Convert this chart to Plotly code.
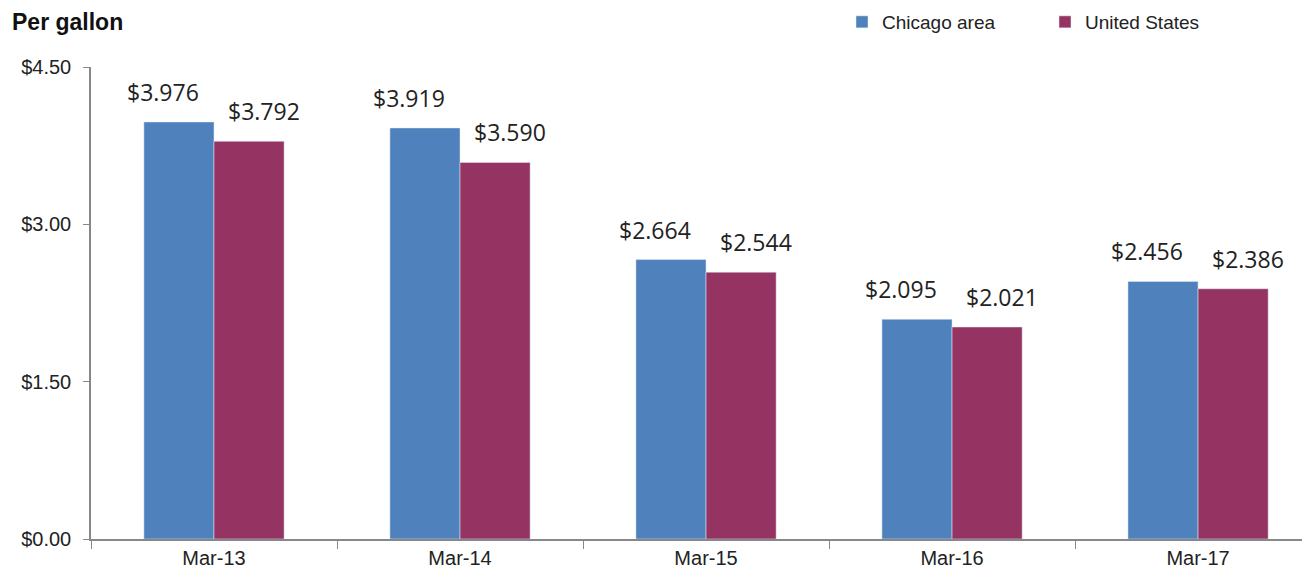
import plotly.graph_objects as go

categories = ["Mar-13", "Mar-14", "Mar-15", "Mar-16", "Mar-17"]
chicago = [3.976, 3.919, 2.664, 2.095, 2.456]
us = [3.792, 3.590, 2.544, 2.021, 2.386]
y_ticks = [0, 1.5, 3.0, 4.5]
y_tick_labels = ["$0.00", "$1.50", "$3.00", "$4.50"]

blue = "#4F81BD"
maroon = "#953462"
label_font = dict(family="Open Sans, Lato, sans-serif", size=23, color="#222222")

W, H = 1302, 567
L, T, B = 83, 59, 36
PW = W - L
PH = H - T - B

fig = go.Figure()
fig.add_trace(go.Bar(
    x=categories, y=chicago, name="Chicago area", marker_color=blue,
    legend="legend",
))
fig.add_trace(go.Bar(
    x=categories, y=us, name="United States", marker_color=maroon,
    legend="legend2",
))

annotations = [dict(text="<b>Per gallon</b>", x=(2 - L) / PW, y=1 + (T - 14) / PH,
                    xref="paper", yref="paper", showarrow=False,
                    xanchor="left", yanchor="middle",
                    font=dict(size=23, color="#111111"))]
for series, shift in ((chicago, -51), (us, 50)):
    for cat, v in zip(categories, series):
        annotations.append(dict(
            x=cat, y=v, xref="x", yref="y", text=f"${v:.3f}", showarrow=False,
            xanchor="center", yanchor="middle", xshift=shift, yshift=30,
            font=label_font,
        ))

leg_common = dict(orientation="h", yref="paper", y=1 + (T + 5) / PH, yanchor="top",
                  xanchor="left", font=dict(size=19, color="#222222"),
                  itemwidth=30, bgcolor="rgba(0,0,0,0)")

fig.update_layout(
    width=W, height=H,
    margin=dict(l=L, r=0, t=T, b=B, autoexpand=False),
    plot_bgcolor="white", paper_bgcolor="white",
    barmode="group", bargap=0.43, bargroupgap=0,
    font=dict(family="Liberation Sans, Arial, sans-serif", size=20, color="#222222"),
    showlegend=True,
    legend=dict(x=(834 - L) / PW, **leg_common),
    legend2=dict(x=(1037 - L) / PW, **leg_common),
    annotations=annotations,
)

fig.update_xaxes(
    range=[-0.5, 4.455], showline=True, linecolor="#888888", linewidth=1.5,
    ticks="outside", tickson="boundaries", ticklen=8, tickcolor="#888888",
    showgrid=False, tickfont=dict(size=20, color="#222222"),
)
fig.update_yaxes(
    range=[0, 4.5], tickvals=y_ticks, ticktext=y_tick_labels,
    showline=True, linecolor="#888888", linewidth=1.5,
    ticks="outside", ticklen=6, tickcolor="#888888", ticklabelstandoff=8,
    showgrid=False, zeroline=False, tickfont=dict(size=20, color="#222222"),
)

fig.write_html("out.html")
